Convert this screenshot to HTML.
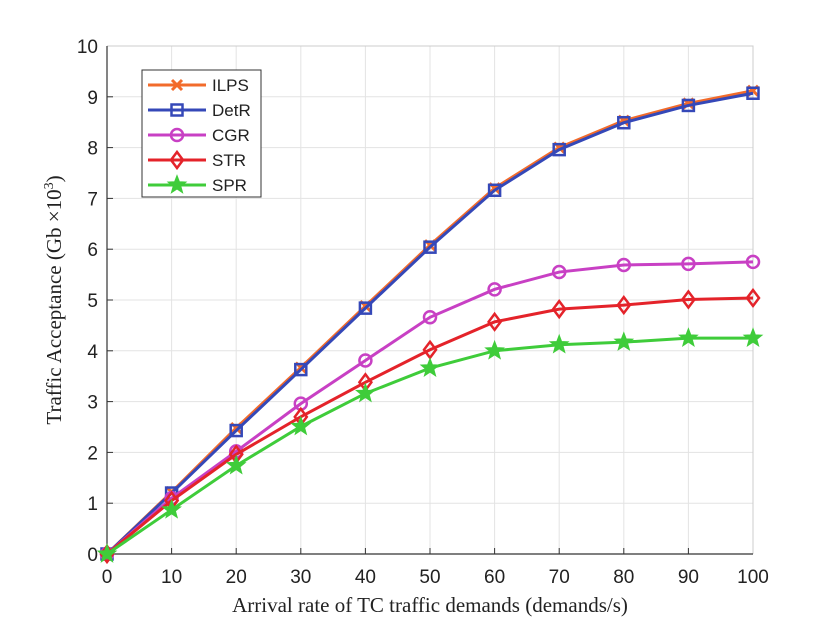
<!DOCTYPE html>
<html><head><meta charset="utf-8"><style>
body{margin:0;background:#fff}
svg text{font-family:"Liberation Sans",sans-serif}
</style></head><body>
<svg id="chart" width="830" height="623" viewBox="0 0 830 623" xmlns="http://www.w3.org/2000/svg">
<rect width="830" height="623" fill="#fff"/>
<g id="grid"></g><g id="axes"></g><g id="series"></g><g id="legend"></g>
<text x="430" y="612" text-anchor="middle" font-size="21" fill="#222" style="font-family:'Liberation Serif',serif">Arrival rate of TC traffic demands (demands/s)</text>
<text transform="translate(61,300) rotate(-90)" text-anchor="middle" font-size="21" fill="#222" style="font-family:'Liberation Serif',serif">Traffic Acceptance (Gb ×10<tspan dy="-8" font-size="14">3</tspan><tspan dy="8">)</tspan></text>
</svg>
<script>
const categories=[0,10,20,30,40,50,60,70,80,90,100];
const xTicks=[0,10,20,30,40,50,60,70,80,90,100];
const yTicks=[0,1,2,3,4,5,6,7,8,9,10];
const ilps=[0,1.22,2.48,3.67,4.88,6.08,7.2,8.0,8.53,8.87,9.12];
const detr=[0,1.2,2.43,3.63,4.84,6.04,7.16,7.96,8.49,8.83,9.07];
const cgr=[0,1.1,2.02,2.96,3.81,4.66,5.21,5.55,5.69,5.71,5.75];
const str=[0,1.05,1.96,2.7,3.38,4.02,4.57,4.82,4.9,5.01,5.04];
const spr=[0,0.87,1.74,2.51,3.16,3.66,4.0,4.12,4.17,4.25,4.25];
const seriesNames=["ILPS","DetR","CGR","STR","SPR"];
const L=107,R=753,T=46,B=554;
const xs=v=>L+(v-0)/100*(R-L);
const ys=v=>B-(v-0)/10*(B-T);
const NS="http://www.w3.org/2000/svg";
function mk(tag,attrs,parent){const e=document.createElementNS(NS,tag);for(const k in attrs)e.setAttribute(k,attrs[k]);parent.appendChild(e);return e;}
const grid=document.getElementById('grid'),axes=document.getElementById('axes'),ser=document.getElementById('series'),leg=document.getElementById('legend');
xTicks.forEach(t=>{
 const g=mk('line',{x1:xs(t),x2:xs(t),y1:T,y2:B,stroke:'#e3e3e3','stroke-width':1},grid);
 
 
 const tk=mk('line',{x1:xs(t),x2:xs(t),y1:B,y2:B-6,stroke:'#333'},axes);
 
 
 const tx=mk('text',{x:xs(t),y:B+29,'text-anchor':'middle','font-size':19,fill:'#222'},axes);
 tx.textContent=t;
 
 
});
yTicks.forEach(t=>{
 const g=mk('line',{x1:L,x2:R,y1:ys(t),y2:ys(t),stroke:'#e3e3e3','stroke-width':1},grid);
 
 
 const tk=mk('line',{x1:L,x2:L+6,y1:ys(t),y2:ys(t),stroke:'#333'},axes);
 
 
 const tx=mk('text',{x:L-9,y:ys(t)+7,'text-anchor':'end','font-size':19,fill:'#222'},axes);
 tx.textContent=t;
 
 
});
const frame=mk('path',{d:`M${L},${T}H${R}V${B}`,fill:'none',stroke:'#ccc'},axes);


const ax=mk('path',{d:`M${L},${T}V${B}H${R}`,fill:'none',stroke:'#333','stroke-width':1.2},axes);


function marker(type,x,y,c,p){
 let e;
 if(type==='x'){e=mk('path',{d:`M${x-5},${y-5}L${x+5},${y+5}M${x-5},${y+5}L${x+5},${y-5}`,stroke:c,'stroke-width':3,fill:'none'},p);}
 else if(type==='s'){e=mk('rect',{x:x-5.5,y:y-5.5,width:11,height:11,stroke:c,'stroke-width':2.5,fill:'none'},p);}
 else if(type==='o'){e=mk('circle',{cx:x,cy:y,r:6,stroke:c,'stroke-width':2.5,fill:'none'},p);}
 else if(type==='d'){e=mk('path',{d:`M${x},${y-8}L${x+6},${y}L${x},${y+8}L${x-6},${y}Z`,stroke:c,'stroke-width':2.5,fill:'none'},p);}
 else {let d='';for(let i=0;i<10;i++){const r=i%2?4:9.5,a=-Math.PI/2+i*Math.PI/5;d+=(i?'L':'M')+(x+r*Math.cos(a)).toFixed(1)+','+(y+r*Math.sin(a)).toFixed(1);}e=mk('path',{d:d+'Z',fill:c,stroke:c},p);}
 return e;
}
const defs=[[ilps,'#f26b2b','x'],[detr,'#3548b8','s'],[cgr,'#c840c4','o'],[str,'#e4232a','d'],[spr,'#3fcc3a','p']];
defs.forEach(([vals,c,m],i)=>{
 const g=mk('g',{},ser);
 
 
 const pl=mk('polyline',{points:vals.map((v,j)=>xs(categories[j])+','+ys(v)).join(' '),fill:'none',stroke:c,'stroke-width':3},g);
 
 
 vals.forEach((v,j)=>{const mm=marker(m,xs(categories[j]),ys(v),c,g);
  
  });
 const ly=85+i*25;
 const lg=mk('g',{},leg);
 
 
 mk('line',{x1:148,x2:206,y1:ly,y2:ly,stroke:c,'stroke-width':3},lg);
 marker(m,177,ly,c,lg);
 const t=mk('text',{x:212,y:ly+6,'font-size':17,fill:'#222'},lg);
 t.textContent=seriesNames[i];
});
const box=mk('rect',{x:142,y:70,width:119,height:127,fill:'none',stroke:'#333','stroke-width':1},leg);


leg.insertBefore(mk('rect',{x:142,y:70,width:119,height:127,fill:'#fff'},leg),leg.firstChild);
</script>
</body></html>
